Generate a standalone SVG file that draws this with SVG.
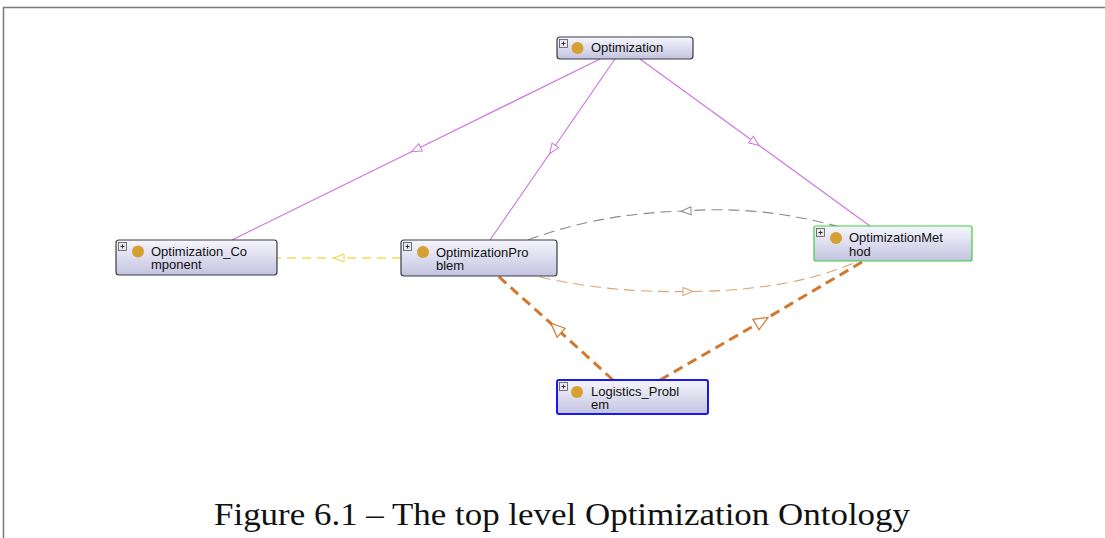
<svg xmlns="http://www.w3.org/2000/svg" width="1105" height="538" viewBox="0 0 1105 538">
<defs>
<linearGradient id="ng" x1="0" y1="0" x2="0" y2="1">
<stop offset="0" stop-color="#f6f6fd"/>
<stop offset="1" stop-color="#c3c3e0"/>
</linearGradient>
<marker id="av" viewBox="0 0 12 10" refX="6" refY="5" markerWidth="12" markerHeight="10" markerUnits="userSpaceOnUse" orient="auto">
<path d="M1,1 L11,5 L1,9 Z" fill="#fff" stroke="#cc77dd" stroke-width="1"/>
</marker>
<marker id="ay" viewBox="0 0 12 10" refX="6" refY="5" markerWidth="12" markerHeight="10" markerUnits="userSpaceOnUse" orient="auto">
<path d="M1,1 L11,5 L1,9 Z" fill="#fff" stroke="#f2d040" stroke-width="1"/>
</marker>
<marker id="ag" viewBox="0 0 12 10" refX="6" refY="5" markerWidth="12" markerHeight="10" markerUnits="userSpaceOnUse" orient="auto">
<path d="M1,1 L11,5 L1,9 Z" fill="#fff" stroke="#8a8a8a" stroke-width="1"/>
</marker>
<marker id="at" viewBox="0 0 12 10" refX="6" refY="5" markerWidth="12" markerHeight="10" markerUnits="userSpaceOnUse" orient="auto">
<path d="M1,1 L11,5 L1,9 Z" fill="#fff" stroke="#e0a070" stroke-width="1"/>
</marker>
<marker id="ao" viewBox="0 0 16 14" refX="8" refY="7" markerWidth="16" markerHeight="14" markerUnits="userSpaceOnUse" orient="auto">
<path d="M1,1 L15,7 L1,13 Z" fill="#fff" stroke="#d2782e" stroke-width="1.2"/>
</marker>
</defs>
<style>
.node rect.b{fill:url(#ng);stroke:#3a3a48;stroke-width:1.2}
.pb{fill:#e8e8ee;stroke:#555;stroke-width:0.8}
.pl{stroke:#222;stroke-width:0.9}
.dot{fill:#d4a030}
.lbl{font-family:"Liberation Sans",Arial,sans-serif;font-size:13px;fill:#111}
.vio{stroke:#cc77dd;stroke-width:1.2;fill:none}
.cap{font-family:"Liberation Serif","Times New Roman",serif;font-size:31px;fill:#111}
</style>
<rect width="1105" height="538" fill="#fff"/>
<path d="M3.5,538 V7.5 H1105" fill="none" stroke="#7a7a7a" stroke-width="1.5"/>

<g id="connectors">
<path class="vio" d="M600,59 L416,149.5 L232,240" marker-mid="url(#av)"/>
<path class="vio" d="M615,59 L552.5,149.5 L490,240" marker-mid="url(#av)"/>
<path class="vio" d="M640,59 L755,142.5 L870,226" marker-mid="url(#av)"/>
<path d="M401,258 L339,258 L277,258" fill="none" stroke="#f5dc50" stroke-width="1.5" stroke-dasharray="9,6" marker-mid="url(#ay)"/>
<path d="M840,227 Q760,205 686,211 Q600,213 528,240" fill="none" stroke="#8a8a8a" stroke-width="1.1" stroke-dasharray="11,6" marker-mid="url(#ag)"/>
<path d="M540,277 Q610,293 688,291.5 Q790,291 856,262" fill="none" stroke="#e0a070" stroke-width="1.1" stroke-dasharray="11,6" marker-mid="url(#at)"/>
<path d="M613,380 L556,328 L498,276" fill="none" stroke="#d2782e" stroke-width="3" stroke-dasharray="10,6" marker-mid="url(#ao)"/>
<path d="M660,380 L762,321 L862,262" fill="none" stroke="#d2782e" stroke-width="3" stroke-dasharray="10,6" marker-mid="url(#ao)"/>
</g>

<g id="n-optimization" class="node">
<rect class="b" x="557" y="37" width="136" height="22" rx="3"/>
<rect class="pb" x="559.5" y="39.5" width="8" height="8"/>
<path class="pl" d="M561.5,43.5 H565.5 M563.5,41.5 V45.5"/>
<circle class="dot" cx="577.5" cy="48" r="6"/>
<text class="lbl" x="591" y="52">Optimization</text>
</g>

<g id="n-component" class="node">
<rect class="b" x="116" y="240" width="161" height="35" rx="3"/>
<rect class="pb" x="118.5" y="242.5" width="8" height="8"/>
<path class="pl" d="M120.5,246.5 H124.5 M122.5,244.5 V248.5"/>
<circle class="dot" cx="138" cy="251.5" r="6"/>
<text class="lbl" x="151" y="256">Optimization_Co</text>
<text class="lbl" x="151" y="269">mponent</text>
</g>

<g id="n-problem" class="node">
<rect class="b" x="401" y="240" width="156" height="36" rx="3"/>
<rect class="pb" x="403.5" y="242.5" width="8" height="8"/>
<path class="pl" d="M405.5,246.5 H409.5 M407.5,244.5 V248.5"/>
<circle class="dot" cx="423" cy="252" r="6"/>
<text class="lbl" x="436" y="256.5">OptimizationPro</text>
<text class="lbl" x="436" y="270">blem</text>
</g>

<g id="n-method" class="node">
<rect class="b" x="814" y="226" width="158" height="35" rx="2" style="stroke:#3ccf3c"/>
<rect class="pb" x="816.5" y="228.5" width="8" height="8"/>
<path class="pl" d="M818.5,232.5 H822.5 M820.5,230.5 V234.5"/>
<circle class="dot" cx="836" cy="238" r="6"/>
<text class="lbl" x="849" y="242">OptimizationMet</text>
<text class="lbl" x="849" y="255.5">hod</text>
</g>

<g id="n-logistics" class="node">
<rect class="b" x="557" y="380" width="151" height="34" rx="2" style="stroke:#1a1ae8;stroke-width:2"/>
<rect class="pb" x="559.5" y="382.5" width="8" height="8"/>
<path class="pl" d="M561.5,386.5 H565.5 M563.5,384.5 V388.5"/>
<circle class="dot" cx="577" cy="392" r="6"/>
<text class="lbl" x="591" y="396">Logistics_Probl</text>
<text class="lbl" x="591" y="409">em</text>
</g>

<text class="cap" x="562" y="525" text-anchor="middle" textLength="696" lengthAdjust="spacingAndGlyphs">Figure 6.1 – The top level Optimization Ontology</text>
</svg>
